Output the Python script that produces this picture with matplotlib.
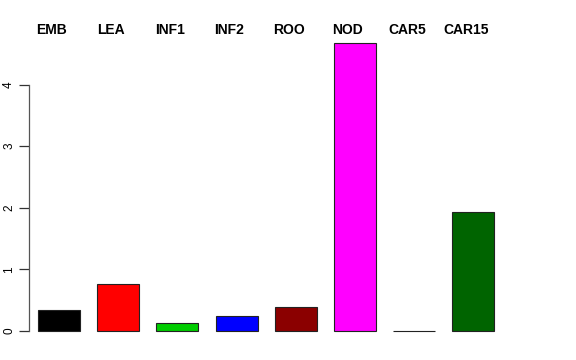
import matplotlib
matplotlib.use("Agg")
import matplotlib.pyplot as plt
import numpy as np

categories = ["EMB", "LEA", "INF1", "INF2", "ROO", "NOD", "CAR5", "CAR15"]
values = [0.34, 0.76, 0.125, 0.24, 0.39, 4.67, 0.005, 1.93]
colors = ["#000000", "#FF0000", "#00CD00", "#0000FF", "#8B0000", "#FF00FF", "#FFFFFF", "#006400"]
yticks = [0, 1, 2, 3, 4]

plt.rcParams['font.family'] = ['Liberation Sans', 'DejaVu Sans']

W, H = 576, 360
fig = plt.figure(figsize=(W / 100, H / 100), dpi=100)
# axes in pixel coords: left 29, right 545, top 40, bottom 340
left, right, top, bottom = 29, 545, 40, 340
ax = fig.add_axes([left / W, (H - bottom) / H, (right - left) / W, (bottom - top) / H])

px_per_unit_y = 61.6
px_per_unit_x = 59.2
x0_px = 59
ax.set_ylim(-(bottom - 331) / px_per_unit_y, (331 - top) / px_per_unit_y)
ax.set_xlim(-(x0_px - left) / px_per_unit_x, (right - x0_px) / px_per_unit_x)

x = np.arange(len(categories))
ax.bar(x, values, width=0.71, color=colors, edgecolor="#222222", linewidth=0.8)

for s in ["top", "right", "bottom"]:
    ax.spines[s].set_visible(False)
ax.spines["left"].set_bounds(0, 4)
ax.spines["left"].set_color("#555555")
ax.spines["left"].set_linewidth(0.9)
ax.set_xticks([])
ax.set_yticks(yticks)
ax.set_yticklabels([str(t) for t in yticks], rotation=90, va="center", fontsize=8.5)
ax.tick_params(axis="y", length=7, width=0.9, color="#333333", pad=3)

label_y = (331 - 30) / px_per_unit_y
for xi, lab in zip(x, categories):
    ax.text(xi - 0.12, label_y, lab, ha="center", va="center", fontsize=10,
            fontweight="bold", clip_on=False)

fig.savefig("out.png", dpi=100)
